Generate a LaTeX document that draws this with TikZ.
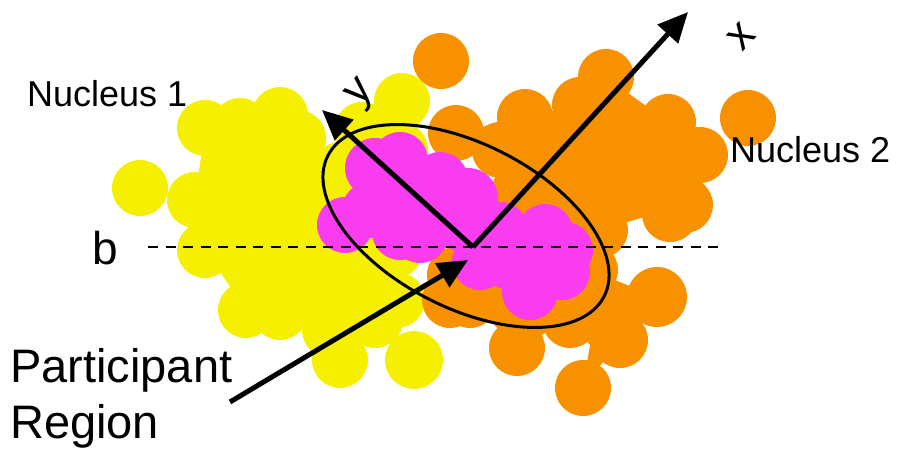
\documentclass[tikz,border=0pt]{standalone}
\usepackage{fontspec}
\setmainfont{Liberation Sans}
\usetikzlibrary{arrows.meta}
\definecolor{nucyel}{RGB}{245,240,0}
\definecolor{nucora}{RGB}{248,145,0}
\definecolor{partmag}{RGB}{250,60,240}
\tikzset{
  nucone/.style={fill=nucyel},
  nuctwo/.style={fill=nucora},
  overlap/.style={fill=partmag},
  axarr/.style={line width=5pt,-{Triangle[length=30pt,width=27pt]}},
  ringline/.style={line width=3pt},
  bline/.style={line width=2pt,dash pattern=on 10pt off 7.5pt},
  lbl/.style={inner sep=0pt},
}

\begin{document}
\begin{tikzpicture}[x=1pt,y=-1pt]
  \useasboundingbox (0,0) rectangle (900,450);
  \fill[nucone] (195,200) -- (205,128) -- (240,126) -- (280,115) -- (298,138) -- (340,170)
    -- (362,130) -- (402,101) -- (400,150) -- (400,200) -- (395,250) -- (397,300) -- (375,320)
    -- (340,360) -- (280,312) -- (246,310) -- (205,250) -- cycle;
  \foreach \x/\y in {140/188,205/128,240/126,280/115,298/138,362/130,402/101,
    195/200,205/250,246/310,280/312,340/360,397/300,375/320,250/170,300/180,
    340/170,400/150,250/230,300/230,350/230,300/280,350/290,395/250,330/330,400/200}
    {\fill[nucone] (\x,\y) circle[radius=28pt];}
  \fill[nucone] (414,360) circle[radius=29pt];
  \fill[nuctwo] (456,133) -- (525,117) -- (580,105) -- (606,77) -- (668,122) -- (700,155)
    -- (685,205) -- (600,230) -- (590,270) -- (657,297) -- (620,340) -- (583,388) -- (590,345)
    -- (570,320) -- (517,348) -- (470,300) -- (450,300) -- (455,275) -- (490,270) -- (500,150) -- cycle;
  \foreach \x/\y in {441/61,456/133,525/117,580/105,606/77,668/122,700/155,748/118,
    685/205,670/214,583/388,517/348,450/300,470/300,455/275,500/150,540/150,
    560/190,600/140,640/150,620/190,660/170,600/230,520/190,590/270,610/310,
    620/340,570/320,490/270,540/280}
    {\fill[nuctwo] (\x,\y) circle[radius=28pt];}
  \fill[nuctwo] (657,297) circle[radius=30pt];
  \fill[overlap] (345,225) -- (375,168) -- (400,160) -- (440,180) -- (468,198) -- (545,232)
    -- (565,250) -- (562,272) -- (530,292) -- (480,262) -- (420,235) -- (400,232) -- cycle;
  \foreach \x/\y in {345/225,400/160,440/180,545/232,565/250,562/272,530/292,
    480/262,400/232,420/235,430/225,500/230,510/262,420/195,370/210}
    {\fill[overlap] (\x,\y) circle[radius=28pt];}
  \fill[overlap] (375,168) circle[radius=30pt] (468,198) circle[radius=30pt];

  \coordinate (c) at (466,226);
  \coordinate (o) at (473,247);
  \coordinate (bl) at (148,247); \coordinate (br) at (723,247);
  \coordinate (ytip) at (322,110); \coordinate (xtip) at (688,12);
  \coordinate (ptail) at (230,402); \coordinate (ptip) at (468,260);

  \draw[bline] (bl) -- (br);
  \draw[ringline,rotate around={-27:(c)}] (c) ellipse[x radius=155pt,y radius=82pt];
  \draw[axarr] (o) -- (ytip);
  \draw[axarr] (o) -- (xtip);
  \draw[axarr] (ptail) -- (ptip);

  \node[lbl,anchor=base west,font=\fontsize{36}{40}\selectfont] (n1) at (27,106) {Nucleus 1};
  \node[lbl,anchor=base west,font=\fontsize{36}{40}\selectfont] (n2) at (730,162) {Nucleus 2};
  \node[lbl,anchor=base west,font=\fontsize{46}{50}\selectfont] (b) at (92,264) {b};
  \node[lbl,anchor=north west,align=left,font=\fontsize{47}{56}\selectfont] (pr) at (10,348)
    {Participant\\Region};
  \node[lbl,rotate=47,font=\fontsize{44}{48}\selectfont] (xl) at (741,37) {x};
  \node[lbl,rotate=47,font=\fontsize{44}{48}\selectfont] (yl) at (362,95) {y};
\end{tikzpicture}
\end{document}
